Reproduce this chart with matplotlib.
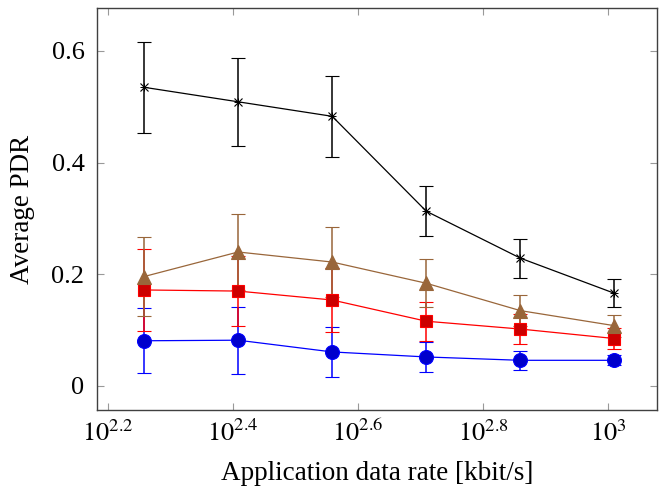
import numpy as np
import matplotlib
matplotlib.use("Agg")
import matplotlib.pyplot as plt

rates = [181, 256, 362, 512, 724, 1024]

blue_y = [0.081, 0.082, 0.061, 0.052, 0.046, 0.046]
blue_err = [0.058, 0.060, 0.045, 0.027, 0.017, 0.009]
red_y = [0.172, 0.170, 0.154, 0.116, 0.102, 0.085]
red_err = [0.073, 0.062, 0.057, 0.035, 0.027, 0.018]
brown_y = [0.196, 0.240, 0.222, 0.184, 0.135, 0.108]
brown_err = [0.070, 0.068, 0.062, 0.043, 0.028, 0.020]
black_y = [0.535, 0.509, 0.483, 0.313, 0.229, 0.166]
black_err = [0.081, 0.079, 0.073, 0.045, 0.035, 0.025]

yticks = [0, 0.2, 0.4, 0.6]
ytick_labels = ["0", "0.2", "0.4", "0.6"]
xticks_exp = [2.2, 2.4, 2.6, 2.8, 3.0]
xtick_labels = [r"$10^{2.2}$", r"$10^{2.4}$", r"$10^{2.6}$", r"$10^{2.8}$", r"$10^{3}$"]

plt.rcParams["font.family"] = ["Liberation Serif", "DejaVu Serif"]
plt.rcParams["mathtext.fontset"] = "stix"

fig = plt.figure(figsize=(6.6, 4.91), dpi=100)
ax = fig.add_axes([97/660, 1 - 410/491, 560/660, 402/491])

series = [
    (blue_y, blue_err, "#0000ff", "#0000cc", "o", 10),
    (red_y, red_err, "#ff0000", "#cc0000", "s", 9),
    (brown_y, brown_err, "#99663a", "#99663a", "^", 9.5),
    (black_y, black_err, "#000000", "#000000", "x", 5.5),
]
for y, e, lc, fc, m, ms in series:
    ax.errorbar(rates, y, yerr=e, color=lc, lw=0.9, marker=m, ms=ms,
                mfc=fc, mec=lc, mew=0.8,
                elinewidth=1.1, capsize=5, capthick=1.1, ecolor=lc)
    if m == "x":
        ax.plot(rates, y, linestyle="none", marker="+", ms=ms, color="black", mew=0.7)

ax.set_xscale("log")
ax.set_xlim(10**2.1824, 10**3.0784)
ax.set_ylim(-0.043, 0.677)
ax.set_xticks([10**v for v in xticks_exp])
ax.set_xticklabels(xtick_labels)
ax.xaxis.set_minor_locator(matplotlib.ticker.NullLocator())
ax.set_yticks(yticks)
ax.set_yticklabels(ytick_labels)

ax.tick_params(direction="in", length=5, width=0.8, color="#999999", labelsize=19,
               top=True, right=True)
ax.tick_params(axis="y", pad=9)
ax.tick_params(axis="x", pad=7)
for s in ax.spines.values():
    s.set_color("#404040")
    s.set_linewidth(1.0)

ax.set_xlabel("Application data rate [kbit/s]", fontsize=19.5, labelpad=11)
ax.set_ylabel("Average PDR", fontsize=19.5, labelpad=12)

fig.savefig("out.png", dpi=100)
